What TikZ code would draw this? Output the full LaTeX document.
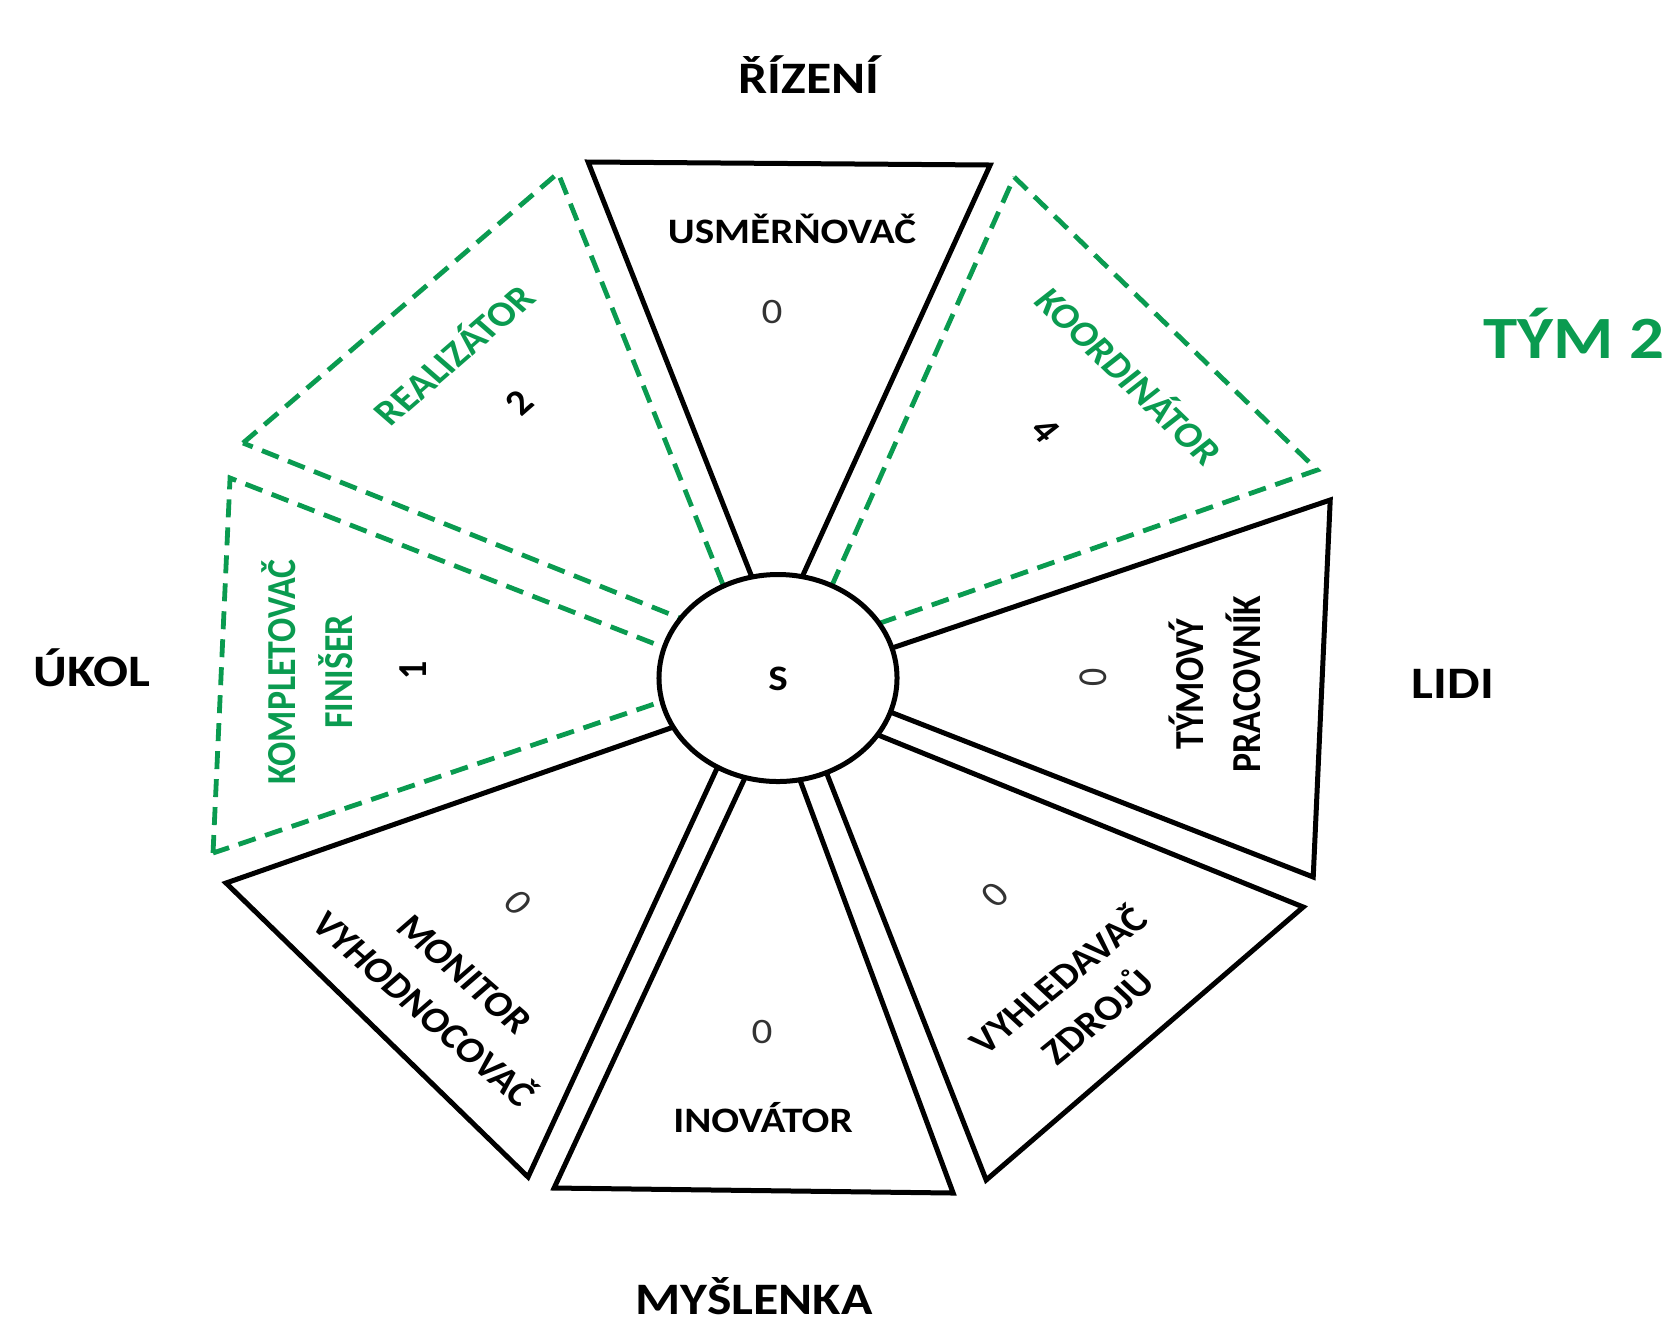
\documentclass[tikz,border=0pt]{standalone}
\usepackage{fontspec}
\setmainfont{Carlito}
\usetikzlibrary{shapes.geometric}
\definecolor{tgreen}{RGB}{10,155,80}
\begin{document}
\begin{tikzpicture}[x=0.434783pt, y=-0.5pt, xscale=1.15, transform shape,
  blk/.style={draw=black, line width=2.5pt},
  grn/.style={draw=tgreen, line width=2.4pt, dash pattern=on 9pt off 5pt},
  side/.style={font=\bfseries\fontsize{22.5}{26}\selectfont, inner sep=0pt, anchor=base},
  lbl/.style={font=\bfseries\fontsize{17.9}{25}\selectfont, inner sep=0pt, align=center},
  glbl/.style={lbl, text=tgreen},
  num/.style={font=\fontsize{17.9}{20}\selectfont, inner sep=0pt, text=black!80},
  bnum/.style={font=\bfseries\fontsize{17.9}{20}\selectfont, inner sep=0pt},
]
\useasboundingbox (0,0) rectangle (1667,1335);

% triangle vertices
\coordinate (a1) at (588,162);  \coordinate (b1) at (990,165);  \coordinate (c1) at (775,636);
\coordinate (a2) at (1014,177); \coordinate (b2) at (1317,470); \coordinate (c2) at (803,650);
\coordinate (a3) at (1330,500); \coordinate (b3) at (1313,877); \coordinate (c3) at (803,678);
\coordinate (a4) at (1303,907); \coordinate (b4) at (986,1180); \coordinate (c4) at (799,703);
\coordinate (a5) at (953,1193); \coordinate (b5) at (554,1188); \coordinate (c5) at (775,713);
\coordinate (a6) at (528,1177); \coordinate (b6) at (226,883);  \coordinate (c6) at (748,701);
\coordinate (a7) at (213,853);  \coordinate (b7) at (230,478);  \coordinate (c7) at (737,676);
\coordinate (a8) at (243,443);  \coordinate (b8) at (558,173);  \coordinate (c8) at (747,645);

\draw[blk] (a1) -- (b1) -- (c1) -- cycle;
\draw[grn] (a2) -- (b2) -- (c2) -- cycle;
\draw[blk] (a3) -- (b3) -- (c3) -- cycle;
\draw[blk] (a4) -- (b4) -- (c4) -- cycle;
\draw[blk] (a5) -- (b5) -- (c5) -- cycle;
\draw[blk] (a6) -- (b6) -- (c6) -- cycle;
\draw[grn] (a7) -- (b7) -- (c7) -- cycle;
\draw[grn] (a8) -- (b8) -- (c8) -- cycle;

% centre
\node[circle, draw=black, line width=2.5pt, fill=white, minimum size=103.5pt, inner sep=0pt] (ctr) at (778,678) {};
\node[bnum, anchor=base] (s) at (778,690) {S};

% side labels
\node[side] (rizeni) at (809,93) {ŘÍZENÍ};
\node[side] (ukol) at (92,686) {ÚKOL};
\node[side] (lidi) at (1453,698) {LIDI};
\node[side] (mysl) at (754,1314) {MYŠLENKA};
\node[side, font=\bfseries\fontsize{30}{34}\selectfont, text=tgreen] (tym) at (1574,358) {TÝM 2};

% role labels
\node[lbl, anchor=base] (usm) at (792,243) {USMĚRŇOVAČ};
\node[num, anchor=base] (n1) at (772,323) {0};

\node[glbl, rotate=-48] (koord) at (1131,375) {KOORDINÁTOR};
\node[bnum, rotate=-48] (n2) at (1045,430) {4};

\node[lbl, rotate=90] (tymovy) at (1215,684) {TÝMOVÝ\\PRACOVNÍK};
\node[num, rotate=90] (n3) at (1093,677) {0};

\node[lbl, rotate=43] (vyhl) at (1076,997) {VYHLEDAVAČ\\ZDROJŮ};
\node[num, rotate=43] (n4) at (995,895) {0};

\node[lbl, anchor=base] (inov) at (763,1132) {INOVÁTOR};
\node[num, anchor=base] (n5) at (762,1043) {0};

\node[lbl, rotate=-45] (monit) at (444,992) {MONITOR\\VYHODNOCOVAČ};
\node[num, rotate=-45] (n6) at (518,903) {0};

\node[glbl, rotate=90] (kompl) at (307,672) {KOMPLETOVAČ\\FINIŠER};
\node[bnum, rotate=90] (n7) at (413,670) {1};

\node[glbl, rotate=45] (real) at (452,353) {REALIZÁTOR};
\node[bnum, rotate=45] (n8) at (519,403) {2};
\end{tikzpicture}
\end{document}
